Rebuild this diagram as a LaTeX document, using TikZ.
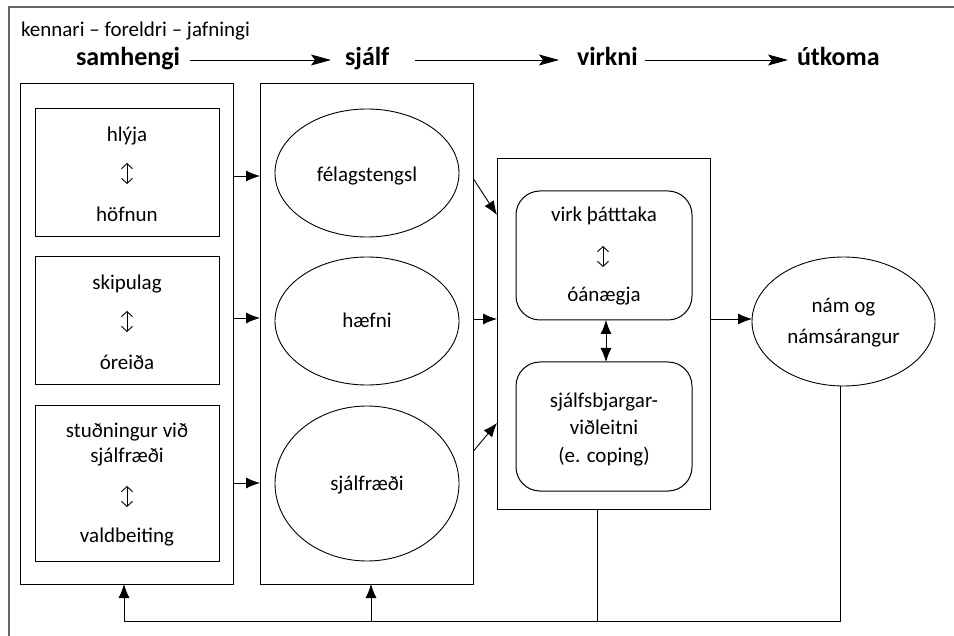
\documentclass[tikz,border=0pt]{standalone}
\usepackage{fontspec}
\setmainfont{Carlito}
\usetikzlibrary{shapes.geometric,arrows.meta}
\definecolor{framegray}{HTML}{666666}
\begin{document}
\begin{tikzpicture}[x=1pt,y=-1pt,
  every node/.style={inner sep=0pt,outer sep=0pt},
  txt/.style={anchor=base,font=\fontsize{21}{25}\selectfont},
  ttl/.style={anchor=base west,font=\fontsize{26}{30}\selectfont\bfseries},
  colbox/.style={draw,line width=1pt,minimum width=213pt},
  sqbox/.style={draw,line width=1pt,minimum width=184pt},
  oval/.style={draw,ellipse,line width=0.9pt,minimum width=184pt},
  rbox/.style={draw,rounded corners=24pt,line width=1pt,minimum width=176pt,minimum height=129pt},
  arr/.style={-{Latex[length=14pt,width=11pt]},line width=0.9pt},
  darr/.style={{Latex[length=14pt,width=11pt]}-{Latex[length=14pt,width=11pt]},line width=0.9pt},
  tarr/.style={-{Stealth[length=20pt,width=11pt,inset=4pt]},line width=0.9pt},
  updown/.style={{Straight Barb[length=5pt,width=11pt]}-{Straight Barb[length=5pt,width=11pt]},line width=0.9pt},
  fline/.style={line width=0.9pt}
]
\useasboundingbox (0,0) rectangle (954,636);
\fill[white] (0,0) rectangle (954,636);
% frame (cut off at right and bottom)
\draw[framegray,line width=1.5pt] (954,7) -- (9,7) -- (9,636);

% header
\node[anchor=base west,font=\fontsize{21}{25}\selectfont] (ctx) at (21,37) {kennari – foreldri – jafningi};
\node[ttl] (t1) at (76,66) {samhengi};
\node[ttl] (t2) at (345,66) {sjálf};
\node[ttl] (t3) at (577,66) {virkni};
\node[ttl] (t4) at (797,66) {útkoma};
\coordinate (a1s) at (190,60); \coordinate (a1e) at (331,60);
\coordinate (a2s) at (415,60); \coordinate (a2e) at (559,60);
\coordinate (a3s) at (645,60); \coordinate (a3e) at (788,60);
\draw[tarr] (a1s) -- (a1e);
\draw[tarr] (a2s) -- (a2e);
\draw[tarr] (a3s) -- (a3e);

% column 1
\node[colbox,minimum height=500pt] (col1) at (126.5,334) {};
\node[sqbox,minimum height=128pt] (b1) at (127,173) {};
\node[sqbox,minimum height=128pt] (b2) at (127,321) {};
\node[sqbox,minimum height=155pt] (b3) at (127,483.5) {};
\node[txt] (b1a) at (127,142) {hlýja};
\node[txt] (b1b) at (127,222) {höfnun};
\node[txt] (b2a) at (127,290) {skipulag};
\node[txt] (b2b) at (127,370) {óreiða};
\node[txt] (b3a) at (127,438) {stuðningur við};
\node[txt] (b3b) at (127,462) {sjálfræði};
\node[txt] (b3c) at (127,542) {valdbeiting};
\coordinate (u1t) at (127,163); \coordinate (u1b) at (127,184);
\coordinate (u2t) at (127,311); \coordinate (u2b) at (127,332);
\coordinate (u3t) at (127,486); \coordinate (u3b) at (127,507);
\draw[updown] (u1t) -- (u1b);
\draw[updown] (u2t) -- (u2b);
\draw[updown] (u3t) -- (u3b);

% column 2
\node[colbox,minimum height=500pt] (col2) at (366.5,334) {};
\node[oval,minimum height=128pt] (e1) at (367,173) {};
\node[oval,minimum height=128pt] (e2) at (367,321) {};
\node[oval,minimum height=155pt] (e3) at (367,483.5) {};
\node[txt] (e1t) at (367,182) {félagstengsl};
\node[txt] (e2t) at (367,328) {hæfni};
\node[txt] (e3t) at (367,490) {sjálfræði};

% column 3
\node[colbox,minimum height=350pt] (col3) at (603.5,334) {};
\node[rbox] (r1) at (604,255.5) {};
\node[rbox] (r2) at (604,426.5) {};
\node[txt] (r1a) at (604,222) {virk þátttaka};
\node[txt] (r1b) at (604,302) {óánægja};
\coordinate (u4t) at (603,246); \coordinate (u4b) at (603,267);
\draw[updown] (u4t) -- (u4b);
\node[txt] (r2a) at (604,408) {sjálfsbjargar-};
\node[txt] (r2b) at (604,435) {viðleitni};
\node[txt] (r2c) at (604,462) {(e. coping)};

% outcome
\node[oval,minimum width=183pt,minimum height=129pt] (nam) at (843.5,321.5) {};
\node[txt] (nam1) at (843.5,313) {nám og};
\node[txt] (nam2) at (843.5,344) {námsárangur};

% connectors col1 -> col2
\draw[arr] (col1.east |- 0,176) -- (col2.west |- 0,176);
\draw[arr] (col1.east |- 0,318) -- (col2.west |- 0,318);
\draw[arr] (col1.east |- 0,483) -- (col2.west |- 0,483);
% col2 -> col3
\coordinate (d1s) at (473.5,179); \coordinate (d1e) at (497,215);
\coordinate (d3s) at (473.5,451); \coordinate (d3e) at (497,423);
\draw[arr] (d1s) -- (d1e);
\draw[arr] (col2.east |- 0,319) -- (col3.west |- 0,319);
\draw[arr] (d3s) -- (d3e);
% inside col3
\draw[darr] (r1.south -| 606,0) -- (r2.north -| 606,0);
% col3 -> outcome
\draw[arr] (col3.east |- 0,319) -- (nam.west |- 0,319);

% feedback
\coordinate (fbR) at (840,621);
\coordinate (fb3) at (597,621);
\coordinate (fb2) at (371,621);
\coordinate (fb1) at (124,621);
\draw[fline] (nam.south -| fbR) -- (fbR) -- (fb1);
\draw[fline] (col3.south -| fb3) -- (fb3);
\draw[arr] (fb1) -- (col1.south -| fb1);
\draw[arr] (fb2) -- (col2.south -| fb2);
\end{tikzpicture}
\end{document}
